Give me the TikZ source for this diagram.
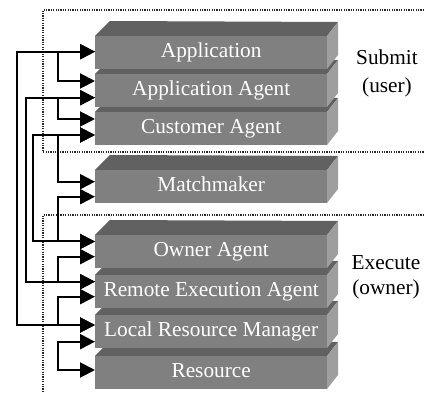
\documentclass[tikz,border=0pt]{standalone}
\usepackage{fontspec}
\setmainfont{Liberation Serif}
\usetikzlibrary{arrows.meta,calc}
\definecolor{frontc}{gray}{0.5}
\definecolor{topc}{gray}{0.38}
\definecolor{sidec}{gray}{0.62}
\tikzset{
  face/.style={fill=frontc, text=white, minimum width=232pt, minimum height=33pt,
    anchor=north west, inner sep=0pt, text height=15pt, text depth=5pt,
    font=\fontsize{21.3}{25}\selectfont},
  link/.style={line width=2pt,
    {Triangle[length=15pt,width=15pt]}-{Triangle[length=15pt,width=15pt]}},
  region/.style={line width=1.2pt, dash pattern=on 1.2pt off 1.2pt, black!85},
  lbl/.style={anchor=base, inner sep=0pt, font=\fontsize{21.3}{25}\selectfont},
}
\newcommand\layer[3]{%
  \fill[topc] (95,#2) -- (110,#2-15) -- (338,#2-14) -- (327,#2) -- cycle;
  \fill[sidec] (327,#2) -- (338,#2-14) -- (338,#2+19) -- (327,#2+33) -- cycle;
  \node[face] (#1) at (95,#2) {#3};
}
\begin{document}
\begin{tikzpicture}[x=1pt,y=-1pt]
\useasboundingbox (0,0) rectangle (424,393);
% regions
\draw[region] (424,10) -- (43,10) -- (43,152) -- (424,152);
\draw[region] (424,215) -- (43,215) -- (43,393);
% layers, bottom first
\layer{res}{356}{Resource}
\layer{lrm}{315}{Local Resource Manager}
\layer{rea}{275}{Remote Execution Agent}
\layer{own}{235}{Owner Agent}
\layer{mm}{170}{Matchmaker}
\layer{cust}{112}{Customer Agent}
\layer{aa}{74}{Application Agent}
\layer{app}{36}{Application}
% labels
\node[lbl] (submit) at (387,65) {Submit};
\node[lbl] (user) at (387,93) {(user)};
\node[lbl] (execute) at (386,270) {Execute};
\node[lbl] (owner) at (386,295) {(owner)};
% connection points
\coordinate (appA) at (95,51.7);
\coordinate (aaU) at (95,81);
\coordinate (aaL) at (95,97.7);
\coordinate (custU) at (95,119);
\coordinate (custL) at (95,135);
\coordinate (mmU) at (95,181.7);
\coordinate (mmL) at (95,196.7);
\coordinate (ownU) at (95,241.5);
\coordinate (ownL) at (95,256.7);
\coordinate (reaU) at (95,281.7);
\coordinate (reaL) at (95,296.7);
\coordinate (lrmU) at (95,325);
\coordinate (lrmL) at (95,341.7);
\coordinate (resA) at (95,370);
% long links
\draw[link] (appA) -- ++(-78,0) |- (lrmU);
\draw[link] (aaL) -- ++(-69,0) |- (reaU);
\draw[link] (custL) -- ++(-62,0) |- (ownU);
% adjacent links
\draw[link] (appA) -- ++(-37,0) |- (aaU);
\draw[link] (aaL) -- ++(-37,0) |- (custU);
\draw[link] (custL) -- ++(-37,0) |- (mmU);
\draw[link] (mmL) -- ++(-37,0) |- (ownU);
\draw[link] (ownL) -- ++(-37,0) |- (reaU);
\draw[link] (reaL) -- ++(-37,0) |- (lrmU);
\draw[link] (lrmL) -- ++(-37,0) |- (resA);
\end{tikzpicture}
\end{document}
